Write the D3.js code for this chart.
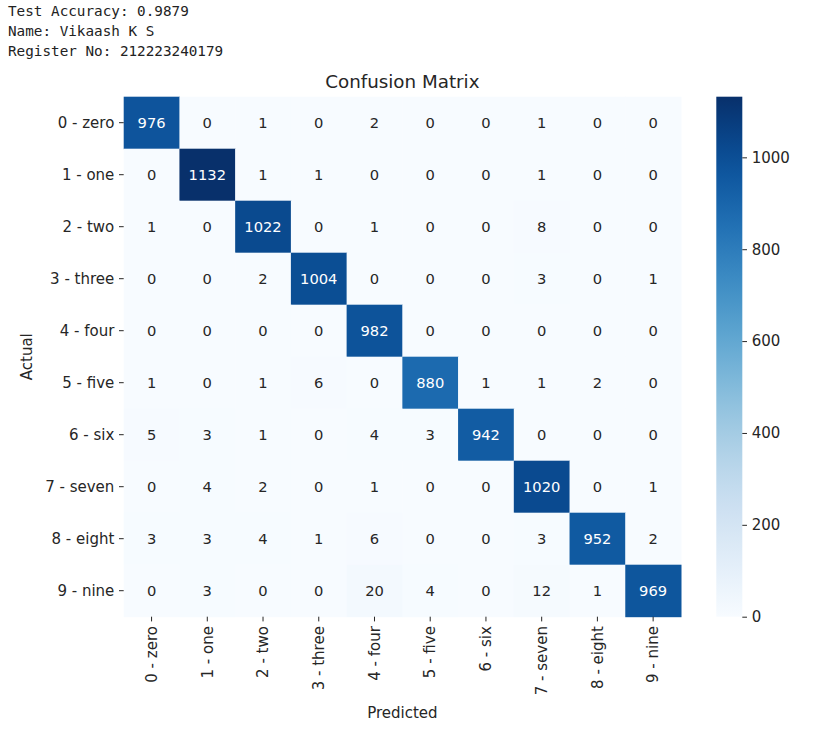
<!DOCTYPE html>
<html><head><meta charset="utf-8">
<script src="https://cdn.jsdelivr.net/npm/d3@7"></script>
<style>body{margin:0;background:#fff}svg{display:block}</style>
</head><body>
<script>
const headerLines = ["Test Accuracy: 0.9879", "Name: Vikaash K S", "Register No: 212223240179"];
const labels = ["0 - zero","1 - one","2 - two","3 - three","4 - four","5 - five","6 - six","7 - seven","8 - eight","9 - nine"];
const row0 = [976,0,1,0,2,0,0,1,0,0];
const row1 = [0,1132,1,1,0,0,0,1,0,0];
const row2 = [1,0,1022,0,1,0,0,8,0,0];
const row3 = [0,0,2,1004,0,0,0,3,0,1];
const row4 = [0,0,0,0,982,0,0,0,0,0];
const row5 = [1,0,1,6,0,880,1,1,2,0];
const row6 = [5,3,1,0,4,3,942,0,0,0];
const row7 = [0,4,2,0,1,0,0,1020,0,1];
const row8 = [3,3,4,1,6,0,0,3,952,2];
const row9 = [0,3,0,0,20,4,0,12,1,969];
const matrix = [row0,row1,row2,row3,row4,row5,row6,row7,row8,row9];
const cbarTicks = [0,200,400,600,800,1000];

const W = 832, H = 730;
const svg = d3.select("body").append("svg").attr("width", W).attr("height", H);
const font = "DejaVu Sans, sans-serif";
const tc = "#262626";
const fs = 15;

// header text
svg.append("g").selectAll("text").data(headerLines).join("text")
  .attr("x", 8).attr("y", (d,i) => 15.5 + i*20)
  .attr("font-family", "DejaVu Sans Mono, monospace").attr("font-size", 14.3)
  .attr("fill", "#222").text(d => d);

const L = 123.7, R = 681, T = 96.7, B = 616.7;
const x = d3.scaleBand().domain(d3.range(10)).range([L, R]);
const y = d3.scaleBand().domain(d3.range(10)).range([T, B]);
const vmax = d3.max(matrix.flat());
const color = d3.scaleSequential(d3.interpolateBlues).domain([0, vmax]);

const cells = [];
matrix.forEach((r,i) => r.forEach((v,j) => cells.push({i,j,v})));

svg.append("g").selectAll("rect").data(cells).join("rect")
  .attr("x", d => x(d.j)).attr("y", d => y(d.i))
  .attr("width", x.bandwidth()+0.5).attr("height", y.bandwidth()+0.5)
  .attr("fill", d => color(d.v));

function lum(c){
  const rgb = d3.rgb(c);
  const f = v => { v/=255; return v<=0.03928? v/12.92 : Math.pow((v+0.055)/1.055,2.4); };
  return 0.2126*f(rgb.r)+0.7152*f(rgb.g)+0.0722*f(rgb.b);
}
svg.append("g").selectAll("text").data(cells).join("text")
  .attr("x", d => x(d.j)+x.bandwidth()/2).attr("y", d => y(d.i)+y.bandwidth()/2)
  .attr("text-anchor","middle").attr("dominant-baseline","central")
  .attr("font-family", font).attr("font-size", 14.7)
  .attr("fill", d => lum(color(d.v)) > 0.408 ? tc : "#fff")
  .text(d => d.v);

// y axis
const yAxis = svg.append("g").attr("transform", `translate(${L},0)`)
  .call(d3.axisLeft(y).tickSize(4.7).tickPadding(4.7).tickFormat(i => labels[i]));
yAxis.select(".domain").remove();
yAxis.selectAll("line").attr("stroke", tc).attr("stroke-width", 1);
yAxis.selectAll("text").attr("font-family", font).attr("font-size", fs).attr("fill", tc);

// x axis
const xAxis = svg.append("g").attr("transform", `translate(0,${B})`)
  .call(d3.axisBottom(x).tickSize(4.7).tickPadding(4.7).tickFormat(i => labels[i]));
xAxis.select(".domain").remove();
xAxis.selectAll("line").attr("stroke", tc).attr("stroke-width", 1);
xAxis.selectAll("text").attr("font-family", font).attr("font-size", fs).attr("fill", tc)
  .attr("transform", "rotate(-90)").attr("text-anchor", "end")
  .attr("x", -9.4).attr("y", 0).attr("dy", "0.35em");

// axis labels
svg.append("text").attr("x", (L+R)/2).attr("y", 718).attr("text-anchor","middle")
  .attr("font-family", font).attr("font-size", fs).attr("fill", tc).text("Predicted");
svg.append("text").attr("transform", `translate(32,${(T+B)/2}) rotate(-90)`).attr("text-anchor","middle")
  .attr("font-family", font).attr("font-size", fs).attr("fill", tc).text("Actual");

// title
svg.append("text").attr("x", (L+R)/2).attr("y", 88).attr("text-anchor","middle")
  .attr("font-family", font).attr("font-size", 18.3).attr("fill", tc).text("Confusion Matrix");

// colorbar
const cbL = 716.3, cbW = 26;
const cy = d3.scaleLinear().domain([0, vmax]).range([B, T]);
const defs = svg.append("defs");
const grad = defs.append("linearGradient").attr("id","cbg").attr("x1",0).attr("x2",0).attr("y1",1).attr("y2",0);
d3.range(0,1.0001,0.05).forEach(t => grad.append("stop").attr("offset", t).attr("stop-color", color(t*vmax)));
svg.append("rect").attr("x", cbL).attr("y", T).attr("width", cbW).attr("height", B-T).attr("fill","url(#cbg)");
const cAxis = svg.append("g").attr("transform", `translate(${cbL+cbW},0)`)
  .call(d3.axisRight(cy).tickValues(cbarTicks).tickFormat(d3.format("d")).tickSize(4.7).tickPadding(4.7));
cAxis.select(".domain").remove();
cAxis.selectAll("line").attr("stroke", tc).attr("stroke-width", 1);
cAxis.selectAll("text").attr("font-family", font).attr("font-size", fs).attr("fill", tc);
</script>
</body></html>
